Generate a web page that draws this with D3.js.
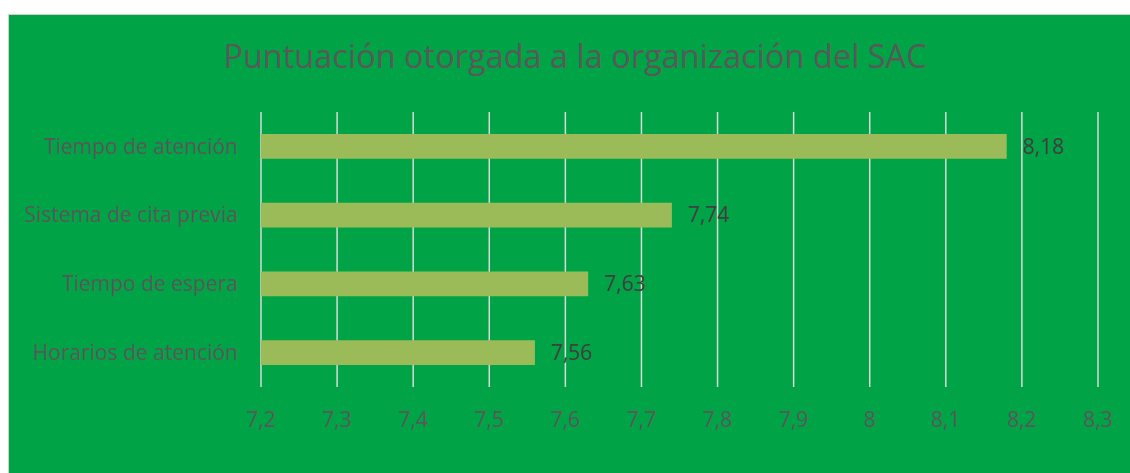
<!DOCTYPE html>
<html><head><meta charset="utf-8">
<script src="https://cdn.jsdelivr.net/npm/d3@7"></script>
<style>body{margin:0;background:#fff;}svg{display:block;}</style>
</head><body>
<script>
const title = "Puntuación otorgada a la organización del SAC";
const categories = ["Tiempo de atención","Sistema de cita previa","Tiempo de espera","Horarios de atención"];
const values = [8.18, 7.74, 7.63, 7.56];
const tickValues = [7.2,7.3,7.4,7.5,7.6,7.7,7.8,7.9,8,8.1,8.2,8.3];

const W = 1130, H = 473;
const svg = d3.select("body").append("svg").attr("width", W).attr("height", H);
const font = "'Open Sans', sans-serif";

svg.append("rect").attr("x", 8.5).attr("y", 14.5).attr("width", W).attr("height", H)
  .attr("fill", "#00A346").attr("stroke", "#D0D0D0").attr("stroke-width", 1);

const x = d3.scaleLinear().domain([7.2, 8.3]).range([261, 1098]);
const y = d3.scaleBand().domain(categories).range([112, 387]).paddingInner(0.64).paddingOuter(0.32);

svg.append("g").selectAll("line").data(tickValues).join("line")
  .attr("x1", d => x(d)).attr("x2", d => x(d)).attr("y1", 112).attr("y2", 387)
  .attr("stroke", "#D9D9D9").attr("stroke-width", 1.5);

const fmt = d => String(d).replace(".", ",");

svg.append("g").selectAll("rect").data(values).join("rect")
  .attr("x", x(7.2)).attr("y", (d,i) => y(categories[i]))
  .attr("width", d => x(d) - x(7.2)).attr("height", y.bandwidth())
  .attr("fill", "#9BBB59");

svg.append("g").selectAll("text").data(values).join("text")
  .attr("x", d => x(d) + 16).attr("y", (d,i) => y(categories[i]) + y.bandwidth()/2)
  .attr("dy", "0.35em").attr("font-family", font).attr("font-size", 21)
  .attr("fill", "#404040").text(fmt);

svg.append("g").selectAll("text").data(categories).join("text")
  .attr("x", 238).attr("y", d => y(d) + y.bandwidth()/2)
  .attr("dy", "0.35em").attr("text-anchor", "end").attr("font-family", font).attr("font-size", 21)
  .attr("fill", "#595959").text(d => d);

svg.append("g").selectAll("text").data(tickValues).join("text")
  .attr("x", d => x(d)).attr("y", 420).attr("dy", "0.35em").attr("text-anchor", "middle")
  .attr("font-family", font).attr("font-size", 21).attr("fill", "#595959").text(fmt);

svg.append("text").attr("x", 575).attr("y", 57).attr("dy", "0.35em").attr("text-anchor", "middle")
  .attr("font-family", font).attr("font-size", 32.5).attr("fill", "#595959").text(title);
</script>
</body></html>
